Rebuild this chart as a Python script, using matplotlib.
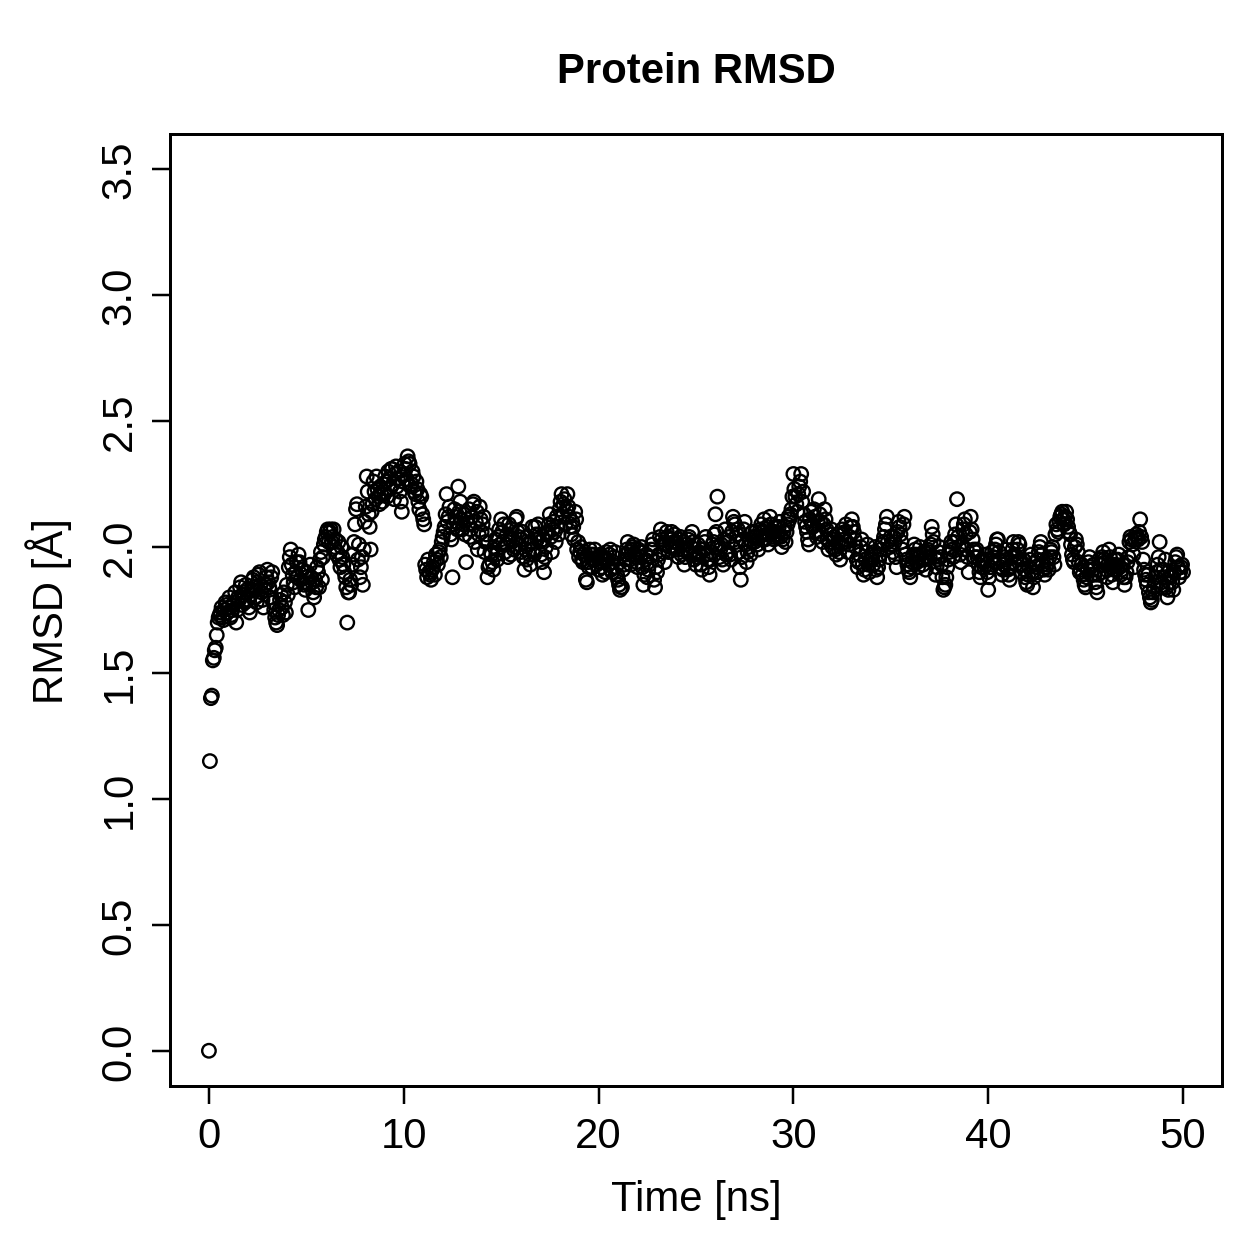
import numpy as np
import matplotlib
matplotlib.use("Agg")
import matplotlib.pyplot as plt

plt.rcParams['font.family'] = ['Liberation Sans', 'DejaVu Sans']

# RMSD values, frames at t = 0.0, 0.1, 0.2 ... ns
# (one row per ns)
rmsd_a = [
    0.00, 1.40, 1.55, 1.59, 1.65, 1.72, 1.74, 1.72, 1.75, 1.77,
    1.76, 1.72, 1.75, 1.78, 1.70, 1.80, 1.84, 1.77, 1.82, 1.85,
    1.79, 1.74, 1.83, 1.88, 1.80, 1.86, 1.90, 1.82, 1.76, 1.85,
    1.91, 1.84, 1.88, 1.78, 1.72, 1.69, 1.75, 1.81, 1.73, 1.78,
    1.85, 1.92, 1.99, 1.89, 1.84, 1.94, 1.97, 1.87, 1.91, 1.85,
    1.88, 1.75, 1.93, 1.86, 1.80, 1.84, 1.90, 1.95, 1.87, 2.01,
    2.04, 2.07, 2.06, 2.02, 2.07, 2.03, 1.98, 1.95, 2.00, 1.93,
    1.88, 1.70, 1.82, 1.85, 1.97, 2.09, 2.17, 2.01, 1.92, 1.85,
    2.10, 2.28, 2.13, 1.99, 2.17, 2.22, 2.28, 2.20, 2.24, 2.18,
    2.21, 2.26, 2.30, 2.23, 2.31, 2.19, 2.32, 2.27, 2.22, 2.14,
    2.29, 2.31, 2.36, 2.33, 2.25, 2.28, 2.21, 2.23, 2.15, 2.20,
    2.11, 1.93, 1.88, 1.90, 1.87, 1.92, 1.89, 1.95, 1.98, 1.96,
    2.04, 2.08, 2.21, 2.12, 2.05, 1.88, 2.15, 2.10, 2.24, 2.18,
    2.07, 2.13, 1.94, 2.09, 2.04, 2.12, 2.18, 2.10, 1.99, 2.16,
    2.06, 2.12, 2.02, 1.88, 1.93, 1.97, 1.91, 2.03, 1.95, 2.07,
    2.11, 2.02, 1.98, 2.05, 2.09, 1.97, 2.03, 2.00, 2.12, 2.04,
    1.98, 2.06, 1.91, 1.95, 2.01, 1.93, 2.08, 1.97, 2.05, 2.09,
    2.02, 1.94, 1.90, 2.00, 2.06, 2.13, 1.98, 2.10, 2.02, 2.08,
    2.15, 2.21, 2.17, 2.09, 2.21, 2.12, 2.05, 2.08, 2.14, 1.99,
    1.96, 2.00, 1.94, 1.98, 1.86, 1.92, 1.97, 1.95, 1.99, 1.93,
    1.91, 1.97, 1.89, 1.95, 1.98, 1.93, 1.99, 1.90, 1.96, 1.92,
    1.87, 1.83, 1.84, 1.93, 1.97, 2.02, 1.95, 1.99, 2.01, 1.96,
    1.92, 1.98, 2.00, 1.85, 1.95, 1.88, 1.93, 1.99, 2.03, 1.84,
    1.90, 1.97, 2.07, 2.01, 1.94, 2.06, 1.98, 2.03, 2.00, 2.05,
    2.02, 1.96, 2.04, 1.99, 1.93, 2.01, 2.03, 1.97, 2.06, 1.95,
    1.93, 2.01, 1.97, 1.91, 1.99, 2.04, 1.95, 1.89, 1.98, 2.02,
    2.13, 2.20, 1.96, 2.01, 1.93, 2.07, 1.98, 2.04, 1.95, 2.12,
    2.09, 2.05, 1.98, 1.87, 2.03, 2.10, 1.94, 2.00, 1.97, 2.06,
    2.02, 2.04, 1.99, 2.07, 2.03, 2.11, 2.05, 2.01, 2.12, 2.06,
    2.03, 2.08, 2.04, 2.10, 2.00, 2.06, 2.02, 2.09, 2.11, 2.15,
    2.29, 2.20, 2.14, 2.24, 2.29, 2.22, 2.10, 2.06, 2.01, 2.14,
    2.08, 2.12, 2.04, 2.19, 2.10, 2.02, 2.15, 2.07, 1.99, 2.05,
    2.00, 2.04, 1.97, 2.02, 1.95, 2.07, 2.03, 2.09, 1.98, 2.04,
    2.11, 2.06, 2.00, 1.92, 1.97, 2.03, 1.89, 1.95, 2.01, 1.90,
    1.97, 1.93, 2.00, 1.88, 1.95, 1.99, 2.02, 2.07, 2.12, 1.96,
    2.04, 1.98, 2.02, 1.92, 2.10, 2.05, 1.99, 2.12, 1.95, 1.91,
    1.88, 1.94, 2.01, 1.97, 1.92, 2.00, 1.95, 1.98, 1.91, 1.99,
    1.96, 2.08, 2.02, 1.89, 1.95, 2.00, 1.93, 1.83, 1.85, 1.92,
    1.98, 2.02, 1.96, 2.05, 2.19, 2.00, 1.94, 2.07, 2.11, 1.99,
    1.90, 2.12, 2.03, 1.96, 1.99, 1.93, 1.88, 1.95, 1.92, 1.97,
    1.83, 1.92, 1.98, 1.94, 2.01, 2.03, 1.95, 1.89, 1.93, 1.99,
    1.91, 1.87, 1.96, 2.02, 1.93, 1.99, 2.01, 1.90, 1.95, 1.88,
    1.85, 1.92, 1.97, 1.84, 1.94, 1.90, 1.98, 2.02, 1.93, 1.89,
    1.95, 1.91, 1.99, 2.00, 1.93, 2.09, 2.06, 2.12, 2.14, 2.09,
    2.14, 2.08, 2.05, 1.97, 1.94, 2.03, 1.98, 1.90, 1.93, 1.87,
    1.84, 1.91, 1.96, 1.89, 1.93, 1.86, 1.82, 1.95, 1.90, 1.98,
    1.94, 1.88, 1.99, 1.92, 1.86, 1.95, 1.91, 1.97, 1.89, 1.93,
    1.85, 1.90, 1.96, 2.04, 2.01, 1.92, 2.05, 2.03, 2.11, 2.02,
    1.91, 1.87, 1.89, 1.80, 1.79, 1.84, 1.88, 1.93, 2.02, 1.86,
    1.91, 1.95, 1.80, 1.86, 1.89, 1.83, 1.94, 1.97, 1.88, 1.92,
    1.90,
]

# frames in between, at t = 0.05, 0.15, 0.25 ... ns
rmsd_b = [
    1.15, 1.41, 1.56, 1.60, 1.70, 1.73, 1.76, 1.71, 1.78, 1.74,
    1.80, 1.73, 1.77, 1.82, 1.75, 1.79, 1.86, 1.81, 1.78, 1.83,
    1.76, 1.81, 1.87, 1.84, 1.78, 1.89, 1.85, 1.79, 1.83, 1.88,
    1.86, 1.80, 1.90, 1.75, 1.70, 1.73, 1.79, 1.76, 1.82, 1.74,
    1.81, 1.96, 1.93, 1.86, 1.90, 1.88, 1.94, 1.91, 1.86, 1.83,
    1.90, 1.85, 1.88, 1.82, 1.87, 1.92, 1.84, 1.98, 1.96, 2.03,
    2.06, 2.02, 2.07, 2.04, 2.00, 1.97, 2.02, 1.92, 1.96, 1.90,
    1.84, 1.82, 1.87, 1.93, 2.02, 2.15, 1.95, 1.88, 1.96, 1.99,
    2.16, 2.22, 2.08, 2.14, 2.26, 2.19, 2.23, 2.17, 2.21, 2.25,
    2.28, 2.20, 2.27, 2.31, 2.25, 2.29, 2.24, 2.30, 2.18, 2.26,
    2.33, 2.27, 2.34, 2.24, 2.30, 2.22, 2.26, 2.18, 2.21, 2.13,
    2.09, 1.91, 1.95, 1.89, 1.91, 1.94, 1.97, 1.93, 1.99, 2.02,
    2.06, 2.13, 2.10, 2.16, 2.03, 2.09, 2.12, 2.07, 2.14, 2.11,
    2.09, 2.05, 2.11, 2.15, 2.07, 2.17, 2.02, 2.14, 2.05, 2.11,
    2.09, 1.98, 2.05, 1.92, 1.98, 1.94, 2.00, 1.97, 2.04, 2.01,
    2.06, 2.09, 2.01, 1.96, 2.03, 2.07, 1.99, 2.11, 2.06, 2.01,
    2.03, 1.96, 1.99, 2.04, 1.97, 2.02, 1.99, 2.08, 2.03, 2.05,
    1.97, 2.03, 1.96, 2.05, 2.09, 2.04, 2.07, 2.06, 2.12, 2.05,
    2.18, 2.12, 2.19, 2.15, 2.16, 2.08, 2.10, 2.03, 2.11, 2.02,
    1.98, 1.95, 1.97, 1.87, 1.94, 1.99, 1.92, 1.97, 1.95, 1.96,
    1.94, 1.92, 1.96, 1.90, 1.95, 1.97, 1.91, 1.94, 1.98, 1.89,
    1.85, 1.84, 1.91, 1.95, 1.99, 1.98, 1.93, 2.00, 1.97, 1.94,
    1.99, 1.96, 1.92, 1.89, 1.97, 1.91, 1.96, 2.01, 1.87, 1.92,
    1.95, 2.04, 2.03, 1.98, 2.01, 2.04, 2.00, 2.06, 2.02, 2.00,
    1.99, 2.03, 1.97, 2.02, 1.96, 1.99, 2.04, 2.00, 2.02, 1.97,
    1.96, 1.98, 1.93, 1.96, 2.02, 1.97, 1.92, 1.95, 2.01, 2.05,
    2.06, 2.00, 1.99, 1.95, 2.03, 1.97, 2.02, 1.97, 2.06, 2.10,
    2.02, 2.07, 1.92, 1.96, 2.07, 2.01, 1.98, 2.03, 2.02, 2.04,
    2.06, 2.01, 2.04, 2.09, 2.06, 2.03, 2.08, 2.05, 2.09, 2.04,
    2.06, 2.05, 2.08, 2.04, 2.03, 2.08, 2.06, 2.12, 2.13, 2.20,
    2.23, 2.17, 2.21, 2.26, 2.18, 2.13, 2.08, 2.03, 2.11, 2.09,
    2.15, 2.06, 2.10, 2.13, 2.05, 2.09, 2.11, 2.03, 2.02, 2.07,
    2.03, 1.99, 2.05, 1.98, 2.01, 2.05, 2.06, 2.02, 2.01, 2.08,
    2.08, 2.03, 1.95, 1.94, 2.00, 1.93, 1.91, 1.98, 1.93, 1.95,
    1.95, 1.98, 1.91, 1.92, 1.97, 2.01, 2.04, 2.09, 2.02, 2.00,
    2.01, 2.04, 1.96, 2.06, 2.08, 2.02, 2.09, 1.97, 1.93, 1.90,
    1.92, 1.97, 1.99, 1.94, 1.96, 1.97, 1.93, 1.95, 1.96, 1.98,
    2.01, 2.05, 1.96, 1.92, 1.98, 1.96, 1.88, 1.84, 1.88, 1.95,
    2.00, 1.99, 2.02, 2.09, 2.04, 1.97, 2.01, 2.09, 2.05, 1.96,
    2.06, 2.07, 1.99, 1.98, 1.96, 1.90, 1.92, 1.94, 1.95, 1.90,
    1.88, 1.95, 1.96, 1.99, 2.03, 1.98, 1.92, 1.91, 1.96, 1.95,
    1.89, 1.92, 1.99, 1.97, 1.96, 2.02, 1.95, 1.93, 1.91, 1.86,
    1.89, 1.95, 1.90, 1.88, 1.92, 1.95, 2.00, 1.97, 1.91, 1.92,
    1.93, 1.96, 1.98, 1.96, 2.05, 2.07, 2.10, 2.13, 2.11, 2.12,
    2.11, 2.06, 2.01, 1.95, 2.00, 2.01, 1.94, 1.91, 1.89, 1.85,
    1.88, 1.94, 1.92, 1.91, 1.89, 1.84, 1.89, 1.93, 1.96, 1.95,
    1.91, 1.93, 1.96, 1.89, 1.91, 1.93, 1.95, 1.92, 1.91, 1.88,
    1.88, 1.94, 2.02, 2.03, 1.97, 2.03, 2.04, 2.06, 2.04, 1.95,
    1.89, 1.85, 1.82, 1.78, 1.82, 1.86, 1.90, 1.96, 1.91, 1.84,
    1.88, 1.84, 1.83, 1.88, 1.86, 1.90, 1.96, 1.92, 1.90, 1.93,
]

time_a = np.arange(len(rmsd_a)) * 0.1
time_b = np.arange(len(rmsd_b)) * 0.1 + 0.05

x_ticks = [0, 10, 20, 30, 40, 50]
y_ticks = [0.0, 0.5, 1.0, 1.5, 2.0, 2.5, 3.0, 3.5]

fig = plt.figure(figsize=(7, 7), dpi=179.857)
ax = fig.add_axes([0.135, 0.1366, 0.8356, 0.7562])

for t, r in [(time_a, rmsd_a), (time_b, rmsd_b)]:
    ax.scatter(t, r, s=5.4 ** 2, facecolors='none', edgecolors='black', linewidths=0.95)

ax.set_xlim(-2, 52)
ax.set_ylim(-0.14, 3.64)
ax.set_xticks(x_ticks)
ax.set_xticklabels([str(t) for t in x_ticks])
ax.set_yticks(y_ticks)
ax.set_yticklabels([f"{t:.1f}" for t in y_ticks], rotation=90, va='center')

ax.tick_params(direction='out', length=7.2, width=1.0, labelsize=16.8, colors='black')
ax.tick_params(axis='x', pad=5)
ax.tick_params(axis='y', pad=5)
for sp in ax.spines.values():
    sp.set_linewidth(1.2)

ax.set_xlabel("Time [ns]", fontsize=16.8, labelpad=9)
ax.set_ylabel("RMSD [Å]", fontsize=16.8, labelpad=11)
ax.set_title("Protein RMSD", fontsize=16.8, fontweight='bold', pad=21)

fig.savefig("out.png", dpi=179.857)
